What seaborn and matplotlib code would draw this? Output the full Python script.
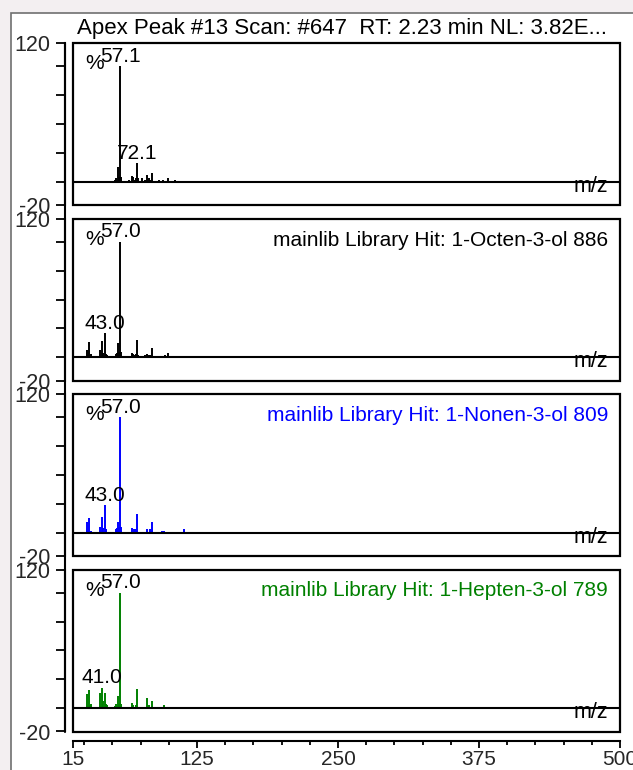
import matplotlib
matplotlib.use("Agg")
import matplotlib.pyplot as plt
from matplotlib.patches import Rectangle
from matplotlib.lines import Line2D
import seaborn as sns

title = "Apex Peak #13 Scan: #647  RT: 2.23 min NL: 3.82E..."

# observed scan (apex of peak 13)
scan_mz = [52, 53, 55, 56, 57, 58, 65, 67, 68, 70, 71, 72, 73, 76, 79, 81, 82, 83, 85, 91, 95, 99, 105, 110,
           117, 124, 131, 139, 147, 155, 168, 181, 195, 209, 224, 239, 256, 273, 291, 310, 330, 352]
scan_int = [2, 3, 13, 4, 100, 4, 2, 5, 4, 2, 3, 16, 3, 3, 2, 6, 3, 2, 8, 2, 1.5, 3, 2, 1,
            0.8, 0.8, 0.8, 0.8, 0.8, 0.8, 0.8, 0.8, 0.8, 0.8, 0.8, 0.8, 0.8, 0.8, 0.8, 0.8, 0.8, 0.8]

# library hit 1: 1-Octen-3-ol
octenol_mz = [27, 29, 31, 39, 41, 42, 43, 44, 45, 53, 54, 55, 56, 57, 58, 67, 68, 70, 71, 72, 73, 79, 81, 82,
              83, 85, 94, 97, 99, 110, 128]
octenol_int = [6, 13, 3, 6, 14, 4, 21, 3, 2, 3, 4, 12, 5, 100, 5, 4, 3, 2, 3, 15, 2, 2, 3, 2,
               2, 8, 1, 2, 4, 1.5, 1]

# library hit 2: 1-Nonen-3-ol
nonenol_mz = [27, 29, 31, 39, 41, 42, 43, 44, 53, 54, 55, 56, 57, 58, 67, 69, 70, 71, 72, 81, 83, 84, 85,
              94, 96, 113]
nonenol_int = [9, 13, 2, 5, 14, 4, 24, 3, 3, 4, 9, 5, 100, 5, 4, 3, 3, 3, 16, 3, 3, 2, 9,
               2, 1.5, 3]

# library hit 3: 1-Hepten-3-ol
heptenol_mz = [27, 29, 30, 31, 39, 41, 42, 43, 44, 45, 52, 53, 55, 56, 57, 58, 67, 68, 71, 72, 81, 82, 85, 96]
heptenol_int = [12, 16, 3, 4, 13, 18, 6, 13, 4, 3, 2, 4, 11, 4, 100, 4, 5, 3, 3, 17, 9, 3, 6, 3]

hit_texts = ["", "mainlib Library Hit: 1-Octen-3-ol 886",
             "mainlib Library Hit: 1-Nonen-3-ol 809",
             "mainlib Library Hit: 1-Hepten-3-ol 789"]
peak_labels = [[(57, "57.1"), (72, "72.1")],
               [(57, "57.0"), (43, "43.0")],
               [(57, "57.0"), (43, "43.0")],
               [(57, "57.0"), (41, "41.0")]]
colors = ["black", "black", "#0000ff", "#008000"]
spectra = [(scan_mz, scan_int), (octenol_mz, octenol_int),
           (nonenol_mz, nonenol_int), (heptenol_mz, heptenol_int)]

xticks_major = [15, 125, 250, 375, 500]
xticks_minor = [25, 50, 75, 100, 150, 175, 200, 225, 275, 300, 325, 350, 400, 425, 450, 475]

sns.set_theme(style="white")
plt.rcParams["font.family"] = ["Liberation Sans", "DejaVu Sans"]

W, H = 633, 770
px2pt = 72 / 100
fs_text = 15
fs_tick = 15.5
fig = plt.figure(figsize=(W / 100, H / 100), dpi=100, facecolor="#f3eff1")

# white window with grey frame
fig.add_artist(Rectangle((11 / W, -0.01), 1.0, 1 - 13 / H + 0.01, transform=fig.transFigure,
                         fc="white", ec="#707070", lw=1.2, zorder=0))

fig.text(77 / W, 1 - 34 / H, title, fontsize=16, va="baseline", ha="left", color="black")

tops = [43, 218.5, 394, 569.5]
ph = 162
axes = []
for i, top in enumerate(tops):
    ax = fig.add_axes([73 / W, 1 - (top + ph) / H, 547 / W, ph / H])
    ax.set_facecolor("none")
    mz, inten = spectra[i]
    ax.vlines(mz, 0, inten, color=colors[i], lw=1.4)
    ax.axhline(0, color="black", lw=1.5)
    ax.set_xlim(15, 500)
    ax.set_ylim(-20, 120)

    for s in ["top", "right", "bottom"]:
        ax.spines[s].set_visible(False)
    ax.spines["left"].set_position(("outward", 8 * px2pt))
    ax.spines["left"].set_linewidth(1.5)
    ax.spines["left"].set_color("black")
    ax.add_patch(Rectangle((0, 0), 1, 1, transform=ax.transAxes, fill=False,
                           ec="black", lw=1.6, clip_on=False))

    ax.set_yticks([-20, 120])
    ax.set_yticklabels(["-20", "120"])
    ax.set_yticks([0, 25, 50, 75, 100], minor=True)
    ax.tick_params(axis="y", which="both", direction="out", left=True, length=9 * px2pt,
                   width=1.3, color="black", labelsize=fs_tick, pad=4)

    if i < 3:
        ax.set_xticks([])
    else:
        ax.spines["bottom"].set_visible(True)
        ax.spines["bottom"].set_position(("outward", 9 * px2pt))
        ax.spines["bottom"].set_linewidth(1.5)
        ax.spines["bottom"].set_color("black")
        ax.set_xticks(xticks_major)
        ax.set_xticklabels([str(t) for t in xticks_major])
        ax.set_xticks(xticks_minor, minor=True)
        ax.tick_params(axis="x", which="major", direction="out", bottom=True, length=7 * px2pt,
                       width=1.3, color="black", labelsize=15, pad=1.5)
        ax.tick_params(axis="x", which="minor", direction="out", bottom=True, length=4 * px2pt,
                       width=1.3, color="black")

    for m, lab in peak_labels[i]:
        y = inten[list(mz).index(m)]
        ax.annotate(lab, xy=(m, y), xytext=(0, 3.0), textcoords="offset points",
                    ha="center", va="baseline", fontsize=fs_text, color="black")
    ax.text(12 / 547, 1 - 11 / ph, "%", transform=ax.transAxes, ha="left", va="top",
            fontsize=fs_text, color="black")
    ax.text(535 / 547, -8.5, "m/z", ha="right", va="baseline", fontsize=15.5,
            color="black", transform=ax.get_yaxis_transform())
    if hit_texts[i]:
        ax.text(535 / 547, 1 - 12 / ph, hit_texts[i], transform=ax.transAxes,
                ha="right", va="top", fontsize=fs_text, color=colors[i] if i > 1 else "black")
    axes.append(ax)

# continuous y axis line through the gaps between panels
fig.add_artist(Line2D([65 / W, 65 / W], [1 - 43 / H, 1 - 731.5 / H], transform=fig.transFigure,
                      color="black", lw=1.5))

fig.savefig("out.png", dpi=100, facecolor=fig.get_facecolor())
